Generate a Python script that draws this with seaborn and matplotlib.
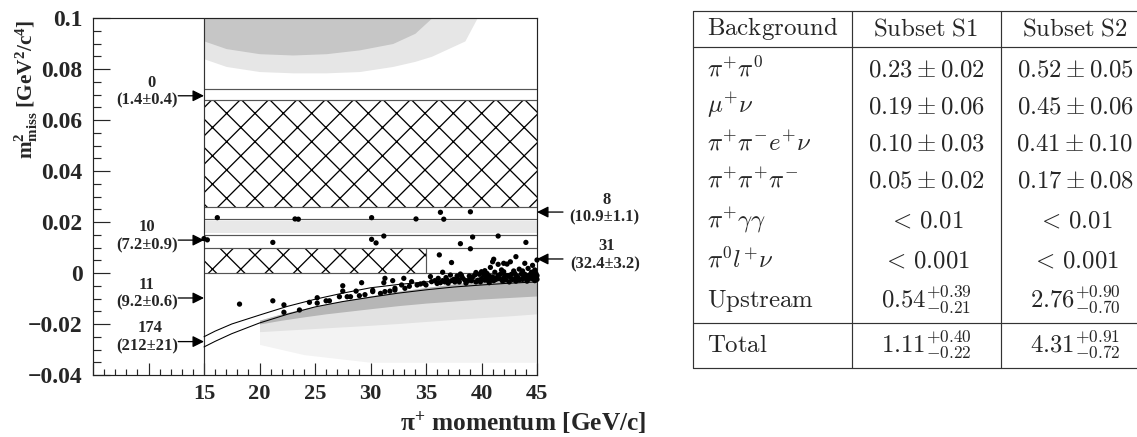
import numpy as np
import pandas as pd
import matplotlib
matplotlib.use("Agg")
import matplotlib.pyplot as plt
import seaborn as sns

# ---------------- data ----------------
# selected events: pi+ momentum [GeV/c] and m2_miss [GeV^2/c^4], grouped by region
evA_p = [16.2, 23.2, 23.5, 30.1, 34.1, 36.3, 36.6, 39.0]
evA_m2 = [0.0217, 0.0212, 0.0211, 0.0217, 0.0212, 0.0238, 0.0211, 0.0240]

evB_p = [15.0, 15.3, 21.2, 30.1, 30.5, 31.2, 38.1, 39.2, 41.5, 44.0]
evB_m2 = [0.0135, 0.0130, 0.0120, 0.0132, 0.0118, 0.0145, 0.0115, 0.0141, 0.0145, 0.0120]

evC_p = [36.2, 37.3, 39.0, 41.1, 41.0, 41.5, 42.0, 42.3, 42.6, 43.1, 43.9, 45.0, 44.8,
         40.8, 40.3, 40.0, 38.1, 37.2, 43.4, 41.8, 39.5, 42.9, 44.2, 44.6, 36.5, 35.4]
evC_m2 = [0.0071, 0.0041, 0.0095, 0.0054, 0.0044, 0.0034, 0.0038, 0.0035, 0.0044, 0.0064, 0.0038, 0.0051, 0.0012,
          0.0022, 0.0009, 0.0005, -0.0004, -0.0008, 0.0015, 0.0012, 0.0002, 0.0008, 0.0018, 0.0030, 0.0003, -0.0014]

evD_p = [18.2, 21.2, 27.5, 29.2, 31.2, 33.0, 31.3, 25.2, 32.0]
evD_m2 = [-0.0122, -0.0109, -0.0050, -0.0038, -0.0038, -0.0021, -0.0021, -0.0097, -0.0030]

evE_p = [22.2, 22.2, 23.6, 24.5, 25.2, 26.0, 26.3, 27.2, 27.5, 27.9, 28.2, 28.7, 29.0, 29.5,
         30.2, 30.2, 30.9, 31.3, 31.75, 32.2, 32.2, 32.8, 33.1, 33.7, 34.2, 34.5, 35.0, 35.5,
         36.0, 36.1, 36.5, 36.8, 37.0, 37.5, 37.8, 38.0, 38.3, 38.8, 39.2, 39.5, 39.8, 40.0,
         40.2, 40.6, 41.0, 41.3, 41.5, 41.7, 42.0, 42.4, 42.8, 43.0, 43.2, 43.6, 44.0, 44.3,
         44.5, 44.7, 44.9, 38.5, 39.0, 39.7, 40.4, 40.9, 41.6, 42.2, 42.6, 43.0, 43.4, 43.8,
         44.2, 44.6, 45.0, 45.0, 37.3, 36.3, 35.8, 34.8, 33.5]
evE_m2 = [-0.0125, -0.0154, -0.0145, -0.0115, -0.0118, -0.0109, -0.0109, -0.0093, -0.0071, -0.0093, -0.0093, -0.0071, -0.0089, -0.0085,
          -0.0068, -0.0073, -0.0080, -0.0073, -0.0071, -0.0067, -0.0060, -0.0047, -0.0060, -0.0034, -0.0047, -0.0043, -0.0047, -0.0034,
          -0.0041, -0.0021, -0.0030, -0.0018, -0.0040, -0.0025, -0.0012, -0.0035, -0.0020, -0.0030, -0.0015, -0.0035, -0.0005, -0.0022,
          -0.0008, -0.0030, -0.0015, -0.0025, -0.0010, -0.0005, -0.0020, -0.0010, -0.0025, -0.0002, -0.0012, -0.0003, -0.0018, -0.0008,
          0.0003, -0.0015, -0.0002, -0.0028, -0.0020, -0.0028, -0.0018, -0.0027, -0.0022, -0.0027, -0.0017, -0.0022, -0.0027, -0.0015,
          -0.0025, -0.0022, -0.0010, -0.0025, -0.0030, -0.0038, -0.0030, -0.0040, -0.0052]

# dense cluster at high momentum
evF_p = [36.9, 37.6, 38.2, 38.6, 39.1, 39.4, 39.9, 40.3, 40.7, 40.7, 41.1, 41.4, 41.9, 42.1, 42.5, 42.7,
         43.1, 43.3, 43.7, 43.9, 44.1, 44.4, 44.6, 44.8, 44.95, 42.0, 43.7, 41.2, 40.5, 38.9, 37.9, 36.7]
evF_m2 = [-0.0028, -0.0035, -0.0010, -0.0040, -0.0030, -0.0008, -0.0035, -0.0028, -0.0012, -0.0038, -0.0030,
          -0.0018, -0.0032, -0.0008, -0.0035, -0.0005, -0.0032, -0.0018, -0.0025, -0.0005, -0.0032, -0.0020,
          -0.0005, -0.0030, -0.0018, 0.0005, 0.0008, 0.0003, -0.0002, -0.0012, -0.0025, -0.0035]

# kinematic boundary curves
curve_p = [15, 16, 17.5, 20, 22.5, 25, 27.5, 30, 32.5, 35, 37.5, 40, 42.5, 45]
curve_upper = [-0.0250, -0.0228, -0.0200, -0.0165, -0.0131, -0.0103, -0.0079, -0.0058,
               -0.0045, -0.0035, -0.0028, -0.0022, -0.0018, -0.0015]
curve_lower = [-0.0290, -0.0268, -0.0238, -0.0196, -0.0162, -0.0133, -0.0112, -0.0095,
               -0.0079, -0.0066, -0.0055, -0.0047, -0.0040, -0.0035]

# signal regions (hatched): p_min, p_max, m2_min, m2_max
region1 = [15, 45, 0.026, 0.068]
region2 = [15, 35, 0.000, 0.010]
boundary_levels = [0.072, 0.021, 0.015, 0.010, 0.000]
cut_p = [15, 45]

# grey MC clouds (envelopes)
top_outer_p = [15, 17, 20, 23, 26, 29, 32, 34, 35.5, 37, 38.5, 39.6]
top_outer_lo = [0.084, 0.081, 0.079, 0.0785, 0.0785, 0.079, 0.081, 0.083, 0.085, 0.088, 0.091, 0.100]
top_core_p = [15, 17, 20, 23, 26, 29, 32, 34, 35.5]
top_core_lo = [0.091, 0.088, 0.086, 0.0855, 0.086, 0.0875, 0.090, 0.094, 0.100]
band_lo, band_hi = 0.0155, 0.0205

low_p = [20, 22, 24, 26, 28, 30, 32.5, 35, 37.5, 40, 42.5, 45]
low_top = [-0.0185, -0.0160, -0.0140, -0.0122, -0.0105, -0.0090, -0.0072, -0.0057, -0.0043, -0.0030, -0.0020, -0.0012]
low_core_bot = [-0.0200, -0.0185, -0.0172, -0.0160, -0.0150, -0.0140, -0.0128, -0.0118, -0.0110, -0.0102, -0.0096, -0.0090]
low_mid_bot = [-0.0230, -0.0225, -0.0220, -0.0215, -0.0210, -0.0205, -0.0198, -0.0190, -0.0182, -0.0175, -0.0168, -0.0160]
low_sparse_bot = [-0.028, -0.030, -0.032, -0.033, -0.034, -0.035, -0.035, -0.035, -0.035, -0.035, -0.035, -0.035]

# annotations
left_counts = ['0', '10', '11', '174']
left_expected = ['(1.4±0.4)', '(7.2±0.9)', '(9.2±0.6)', '(212±21)']
left_arrow_m2 = [0.0695, 0.0129, -0.0098, -0.0269]
right_counts = ['8', '31']
right_expected = ['(10.9±1.1)', '(32.4±3.2)']
right_arrow_m2 = [0.0239, 0.0055]

y_ticks = [-0.04, -0.02, 0.0, 0.02, 0.04, 0.06, 0.08, 0.1]
y_tick_labels = ['\u22120.04', '\u22120.02', '0', '0.02', '0.04', '0.06', '0.08', '0.1']
x_ticks = [5, 10, 15, 20, 25, 30, 35, 40, 45]
x_tick_labels = ['', '', '15', '20', '25', '30', '35', '40', '45']

# table
tab_header = [r'$\mathrm{Background}$', r'$\mathrm{Subset\ S1}$', r'$\mathrm{Subset\ S2}$']
tab_bg = [r'$\pi^{+}\pi^{0}$', r'$\mu^{+}\nu$', r'$\pi^{+}\pi^{-}e^{+}\nu$', r'$\pi^{+}\pi^{+}\pi^{-}$',
          r'$\pi^{+}\gamma\gamma$', r'$\pi^{0}l^{+}\nu$', r'$\mathrm{Upstream}$', r'$\mathrm{Total}$']
tab_s1 = [r'$0.23\pm0.02$', r'$0.19\pm0.06$', r'$0.10\pm0.03$', r'$0.05\pm0.02$',
          r'$<\,0.01$', r'$<\,0.001$', r'$0.54^{+0.39}_{-0.21}$', r'$1.11^{+0.40}_{-0.22}$']
tab_s2 = [r'$0.52\pm0.05$', r'$0.45\pm0.06$', r'$0.41\pm0.10$', r'$0.17\pm0.08$',
          r'$<\,0.01$', r'$<\,0.001$', r'$2.76^{+0.90}_{-0.70}$', r'$4.31^{+0.91}_{-0.72}$']

# ---------------- style ----------------
sns.set_style("ticks")
DPI = 85
plt.rcParams['font.family'] = ['Liberation Serif', 'DejaVu Serif']
plt.rcParams['font.weight'] = 'bold'
plt.rcParams['mathtext.fontset'] = 'custom'
plt.rcParams['mathtext.rm'] = 'Liberation Serif:bold'
plt.rcParams['mathtext.it'] = 'Liberation Serif:italic:bold'
plt.rcParams['mathtext.bf'] = 'Liberation Serif:bold'
plt.rcParams['hatch.color'] = 'black'
plt.rcParams['hatch.linewidth'] = 1.1
plt.rcParams['axes.unicode_minus'] = True

fig = plt.figure(figsize=(1137 / DPI, 437 / DPI), dpi=DPI)
fig.patch.set_facecolor('white')
ax = fig.add_axes([93 / 1137, 1 - 375 / 437, (537 - 93) / 1137, (375 - 18) / 437])
ax.set_facecolor('white')
ax.set_xlim(5, 45)
ax.set_ylim(-0.04, 0.1)

# grey clouds
ax.fill_between(top_outer_p, top_outer_lo, 0.1, color='#e6e6e6', lw=0, zorder=1)
ax.fill_between(top_core_p, top_core_lo, 0.1, color='#c6c6c6', lw=0, zorder=1.1)
ax.fill_between(cut_p, band_lo, band_hi, color='#e8e8e8', lw=0, zorder=1)
ax.fill_between(low_p, low_sparse_bot, low_top, color='#f3f3f3', lw=0, zorder=1)
ax.fill_between(low_p, low_mid_bot, low_top, color='#e2e2e2', lw=0, zorder=1.1)
ax.fill_between(low_p, low_core_bot, low_top, color='#b6b6b6', lw=0, zorder=1.2)

# hatched signal regions
for r in (region1, region2):
    ax.fill_between([r[0], r[1]], r[2], r[3], facecolor='none', edgecolor='black',
                    hatch='x', lw=0, zorder=2)
    ax.vlines(r[1], r[2], r[3], color='#555555', lw=1.0, zorder=3)
ax.hlines([region1[2], region1[3]], region1[0], region1[1], color='#555555', lw=1.0, zorder=3)
ax.hlines(boundary_levels, cut_p[0], cut_p[1], color='#555555', lw=1.0, zorder=3)
ax.vlines(cut_p[0], -0.04, 0.1, color='#333333', lw=1.0, zorder=3)

# boundary curves
sns.lineplot(x=curve_p, y=curve_upper, ax=ax, color='black', lw=0.9, sort=False, estimator=None, zorder=3)
sns.lineplot(x=curve_p, y=curve_lower, ax=ax, color='black', lw=0.9, sort=False, estimator=None, zorder=3)

# events
events = pd.DataFrame({
    'p': evA_p + evB_p + evC_p + evD_p + evE_p + evF_p,
    'm2': evA_m2 + evB_m2 + evC_m2 + evD_m2 + evE_m2 + evF_m2,
})
sns.scatterplot(data=events, x='p', y='m2', ax=ax, color='black', s=20,
                edgecolor='none', linewidth=0, zorder=5, clip_on=False)

# annotations
arrow_kw = dict(arrowstyle='-|>,head_length=0.4,head_width=0.2', color='black', lw=1.1,
                shrinkA=0, shrinkB=0, mutation_scale=20)
left_x = [10.3, 9.86, 9.86, 10.1]
for c, e, y, lx in zip(left_counts, left_expected, left_arrow_m2, left_x):
    ax.annotate('', xy=(15, y), xytext=(12.68, y), arrowprops=arrow_kw, zorder=6)
    ax.text(lx, y + 0.0052, c, ha='center', va='center', fontsize=14, fontweight='bold')
    ax.text(9.86, y - 0.0019, e, ha='center', va='center', fontsize=14, fontweight='bold')
for c, e, y in zip(right_counts, right_expected, right_arrow_m2):
    ax.annotate('', xy=(45, y), xytext=(47.34, y), arrowprops=arrow_kw,
                annotation_clip=False, zorder=6)
    ax.text(51.3, y + 0.0049, c, ha='center', va='center', fontsize=14, fontweight='bold', clip_on=False)
    ax.text(51.1, y - 0.0020, e, ha='center', va='center', fontsize=14, fontweight='bold', clip_on=False)

# axes / ticks
ax.set_xticks(x_ticks)
ax.set_xticklabels(x_tick_labels)
ax.set_xticks(np.arange(5, 45.5, 1), minor=True)
ax.set_yticks(y_ticks)
ax.set_yticklabels(y_tick_labels)
ax.set_yticks(np.arange(-0.04, 0.1001, 0.005), minor=True)
ax.tick_params(axis='y', which='major', direction='in', length=14, width=1, pad=9,
               labelsize=20, right=False)
ax.tick_params(axis='y', which='minor', direction='in', length=7, width=1, right=False)
ax.tick_params(axis='x', which='major', direction='in', length=10, width=1, pad=8,
               labelsize=19, top=False)
ax.tick_params(axis='x', which='minor', direction='in', length=5, width=1, top=False)
for lab in ax.get_xticklabels() + ax.get_yticklabels():
    lab.set_fontweight('bold')
for sp in ax.spines.values():
    sp.set_visible(True)
    sp.set_color('#222222')
    sp.set_linewidth(1.0)
ax.set_xlabel('')
ax.set_ylabel('')

fig.text(26 / 1137, 1 - 20 / 437, r'$\mathrm{m^{2}_{miss}}$ [GeV$^{\mathrm{2}}$/c$^{\mathrm{4}}$]',
         rotation=90, ha='center', va='top', fontsize=18, fontweight='bold')
fig.text(400 / 1137, 1 - 430 / 437, r'$\mathrm{\pi^{+}}$ momentum [GeV/c]',
         ha='left', va='baseline', fontsize=21.5, fontweight='bold')

# ---------------- table ----------------
tab = fig.add_axes([0, 0, 1, 1])
tab.set_xlim(0, 1137)
tab.set_ylim(437, 0)
tab.axis('off')
tab.patch.set_visible(False)
tl, tr = 693, 1137
for yy in (11, 46.7, 323.3, 368.3):
    tab.plot([tl, tr], [yy, yy], color='#333333', lw=1.0)
for xx in (693, 852, 1001):
    tab.plot([xx, xx], [11, 368.3], color='#333333', lw=1.0)
col_x = [707, 926, 1075]
header_y = 35
row_y = [76.5, 113, 150, 187, 227, 267, 307, 352]
tfs = 21
tab.text(col_x[0], header_y, tab_header[0], ha='left', va='baseline', fontsize=tfs, math_fontfamily='cm')
tab.text(col_x[1], header_y, tab_header[1], ha='center', va='baseline', fontsize=tfs, math_fontfamily='cm')
tab.text(col_x[2], header_y, tab_header[2], ha='center', va='baseline', fontsize=tfs, math_fontfamily='cm')
for b, a1, a2, yy in zip(tab_bg, tab_s1, tab_s2, row_y):
    tab.text(col_x[0], yy, b, ha='left', va='baseline', fontsize=tfs, math_fontfamily='cm')
    tab.text(col_x[1], yy, a1, ha='center', va='baseline', fontsize=tfs, math_fontfamily='cm')
    tab.text(col_x[2], yy, a2, ha='center', va='baseline', fontsize=tfs, math_fontfamily='cm')

fig.savefig('out.png', dpi=DPI, facecolor='white')
